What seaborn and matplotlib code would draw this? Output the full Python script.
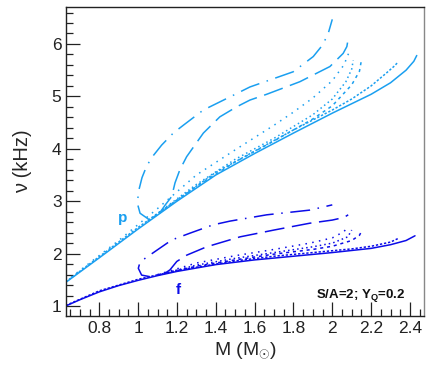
import numpy as np
import pandas as pd
import seaborn as sns
import matplotlib
matplotlib.use("Agg")
import matplotlib.pyplot as plt
from matplotlib.ticker import MultipleLocator

# ---- p-mode curves (mass in M_sun, frequency in kHz) ----
p_solid_m = [0.627, 0.8, 1.0, 1.2, 1.4, 1.6, 1.8, 2.0, 2.1, 2.2, 2.3, 2.38, 2.42, 2.435]
p_solid_nu = [1.45, 1.92, 2.47, 3.0, 3.5, 3.91, 4.3, 4.68, 4.86, 5.04, 5.26, 5.5, 5.67, 5.78]

p_dense_m = [0.627, 1.0, 1.4, 1.8, 2.0, 2.1, 2.2, 2.28, 2.32, 2.34]
p_dense_nu = [1.46, 2.5, 3.55, 4.36, 4.74, 4.95, 5.2, 5.45, 5.58, 5.66]

p_dot1_m = [0.627, 0.9, 1.1, 1.3, 1.5, 1.7, 1.8, 1.9, 2.0, 2.06, 2.091]
p_dot1_nu = [1.47, 2.25, 2.86, 3.5, 3.98, 4.45, 4.7, 4.97, 5.3, 5.6, 5.885]

p_dot2_m = [1.05, 1.3, 1.5, 1.7, 1.9, 2.0, 2.07, 2.1, 2.108]
p_dot2_nu = [2.63, 3.32, 3.8, 4.2, 4.65, 4.95, 5.28, 5.52, 5.69]

p_dot3_m = [1.05, 1.3, 1.5, 1.7, 1.9, 2.0, 2.1, 2.14, 2.151]
p_dot3_nu = [2.62, 3.28, 3.75, 4.15, 4.57, 4.82, 5.22, 5.48, 5.71]

p_ldash_m = [1.11, 1.14, 1.173, 1.19, 1.215, 1.25, 1.336, 1.421, 1.507, 1.576, 1.662, 1.833, 1.988, 2.056, 2.075, 2.082]
p_ldash_nu = [2.77, 2.93, 3.09, 3.35, 3.6, 3.85, 4.3, 4.61, 4.8, 4.93, 5.04, 5.28, 5.57, 5.82, 5.95, 6.1]

p_dashdot_m = [1.06, 1.01, 0.996, 1.003, 1.02, 1.045, 1.078, 1.121, 1.181, 1.233, 1.336, 1.473, 1.576, 1.799, 1.902, 1.95, 1.979, 2.0]
p_dashdot_nu = [2.64, 2.77, 2.96, 3.2, 3.45, 3.68, 3.87, 4.07, 4.3, 4.45, 4.74, 4.99, 5.18, 5.47, 5.76, 5.98, 6.2, 6.47]

# ---- f-mode curves ----
f_solid_m = [0.627, 0.7, 0.8, 0.9, 1.0, 1.1, 1.2, 1.4, 1.6, 1.8, 2.0, 2.2, 2.3, 2.38, 2.426]
f_solid_nu = [1.0, 1.12, 1.27, 1.39, 1.49, 1.58, 1.66, 1.79, 1.88, 1.95, 2.02, 2.1, 2.17, 2.25, 2.34]

f_dense_m = [0.627, 0.8, 1.0, 1.2, 1.5, 1.7, 1.9, 2.1, 2.2, 2.3, 2.34]
f_dense_nu = [1.01, 1.29, 1.51, 1.68, 1.86, 1.95, 2.02, 2.09, 2.14, 2.22, 2.29]

f_dot1_m = [1.1, 1.3, 1.5, 1.7, 1.884, 2.0, 2.06, 2.08]
f_dot1_nu = [1.6, 1.82, 1.96, 2.08, 2.2, 2.3, 2.42, 2.51]

f_dot2_m = [1.1, 1.3, 1.5, 1.7, 1.9, 2.0, 2.08, 2.1]
f_dot2_nu = [1.59, 1.78, 1.91, 2.02, 2.13, 2.2, 2.32, 2.45]

f_dot3_m = [1.1, 1.3, 1.5, 1.7, 1.9, 2.0, 2.1, 2.14, 2.15]
f_dot3_nu = [1.59, 1.76, 1.88, 1.99, 2.08, 2.14, 2.25, 2.35, 2.42]

f_ldash_m = [1.14, 1.164, 1.199, 1.25, 1.353, 1.525, 1.7, 1.884, 2.0, 2.06, 2.082]
f_ldash_nu = [1.63, 1.69, 1.85, 1.97, 2.13, 2.32, 2.45, 2.58, 2.64, 2.69, 2.74]

f_dashdot_m = [1.06, 1.018, 1.001, 1.01, 1.036, 1.173, 1.267, 1.387, 1.473, 1.662, 1.884, 2.0]
f_dashdot_nu = [1.56, 1.59, 1.72, 1.84, 1.91, 2.26, 2.39, 2.55, 2.62, 2.74, 2.83, 2.93]

P_COLOR = "#1a9ff0"
F_COLOR = "#0c0ce8"

styles = {
    "solid": "-",
    "dense": (0, (1.5, 1.2)),
    "dot1": (0, (1, 3.5)),
    "dot2": (0, (1, 2)),
    "dot3": (0, (2, 2.5)),
    "ldash": (0, (13, 5)),
    "dashdot": (0, (13, 5, 1, 5)),
}

curves = {
    ("p", "solid"): (p_solid_m, p_solid_nu),
    ("p", "dense"): (p_dense_m, p_dense_nu),
    ("p", "dot1"): (p_dot1_m, p_dot1_nu),
    ("p", "dot2"): (p_dot2_m, p_dot2_nu),
    ("p", "dot3"): (p_dot3_m, p_dot3_nu),
    ("p", "ldash"): (p_ldash_m, p_ldash_nu),
    ("p", "dashdot"): (p_dashdot_m, p_dashdot_nu),
    ("f", "solid"): (f_solid_m, f_solid_nu),
    ("f", "dense"): (f_dense_m, f_dense_nu),
    ("f", "dot1"): (f_dot1_m, f_dot1_nu),
    ("f", "dot2"): (f_dot2_m, f_dot2_nu),
    ("f", "dot3"): (f_dot3_m, f_dot3_nu),
    ("f", "ldash"): (f_ldash_m, f_ldash_nu),
    ("f", "dashdot"): (f_dashdot_m, f_dashdot_nu),
}

sns.set_style("ticks")
plt.rcParams["font.family"] = ["Liberation Sans", "DejaVu Sans"]
plt.rcParams["mathtext.fontset"] = "custom"
plt.rcParams["mathtext.rm"] = "Liberation Sans"
plt.rcParams["mathtext.bf"] = "Liberation Sans:bold"

fig = plt.figure(figsize=(4.36, 3.72), dpi=100)
ax = fig.add_axes([0.1507, 0.1513, 0.8225, 0.8291])

for (mode, name), (m, nu) in curves.items():
    df = pd.DataFrame({"M": m, "nu": nu})
    sns.lineplot(data=df, x="M", y="nu", sort=False, estimator=None,
                 color=P_COLOR if mode == "p" else F_COLOR,
                 linestyle=styles[name], linewidth=1.1, ax=ax)

ax.set_xlim(0.627, 2.474)
ax.set_ylim(0.815, 6.7)
ax.xaxis.set_minor_locator(MultipleLocator(0.05))
ax.yaxis.set_minor_locator(MultipleLocator(0.2))
ax.set_xticks([0.8, 1.0, 1.2, 1.4, 1.6, 1.8, 2.0, 2.2, 2.4])
ax.set_xticklabels(["0.8", "1", "1.2", "1.4", "1.6", "1.8", "2", "2.2", "2.4"])
ax.set_yticks([1, 2, 3, 4, 5, 6])
ax.set_yticklabels(["1", "2", "3", "4", "5", "6"])

ax.tick_params(which="both", direction="in", top=False, right=False,
               labelsize=12.5, colors="#222222")
ax.tick_params(which="major", length=10, width=0.9)
ax.tick_params(which="minor", length=5, width=0.9)
ax.tick_params(axis="x", pad=4)
ax.tick_params(axis="y", pad=3)
for s in ax.spines.values():
    s.set_linewidth(1.0)
    s.set_color("#222222")
ax.spines["right"].set_color("#888888")

ax.set_xlabel(r"M (M$_{\odot}$)", fontsize=14)
ax.set_ylabel("ν (kHz)", fontsize=14.5)
ax.xaxis.set_label_coords(0.5, -0.08)
ax.yaxis.set_label_coords(-0.095, 0.5)

ax.text(0.92, 2.67, "p", color=P_COLOR, fontsize=11, fontweight="bold",
        ha="center", va="center")
ax.text(1.207, 1.31, "f", color=F_COLOR, fontsize=11, fontweight="bold",
        ha="center", va="center")
ax.text(2.375, 1.2, r"S/A=2; Y$_{\mathbf{Q}}$=0.2", fontsize=9.5,
        fontweight="bold", ha="right", va="center", color="#111111")

fig.savefig("out.png", dpi=100)
